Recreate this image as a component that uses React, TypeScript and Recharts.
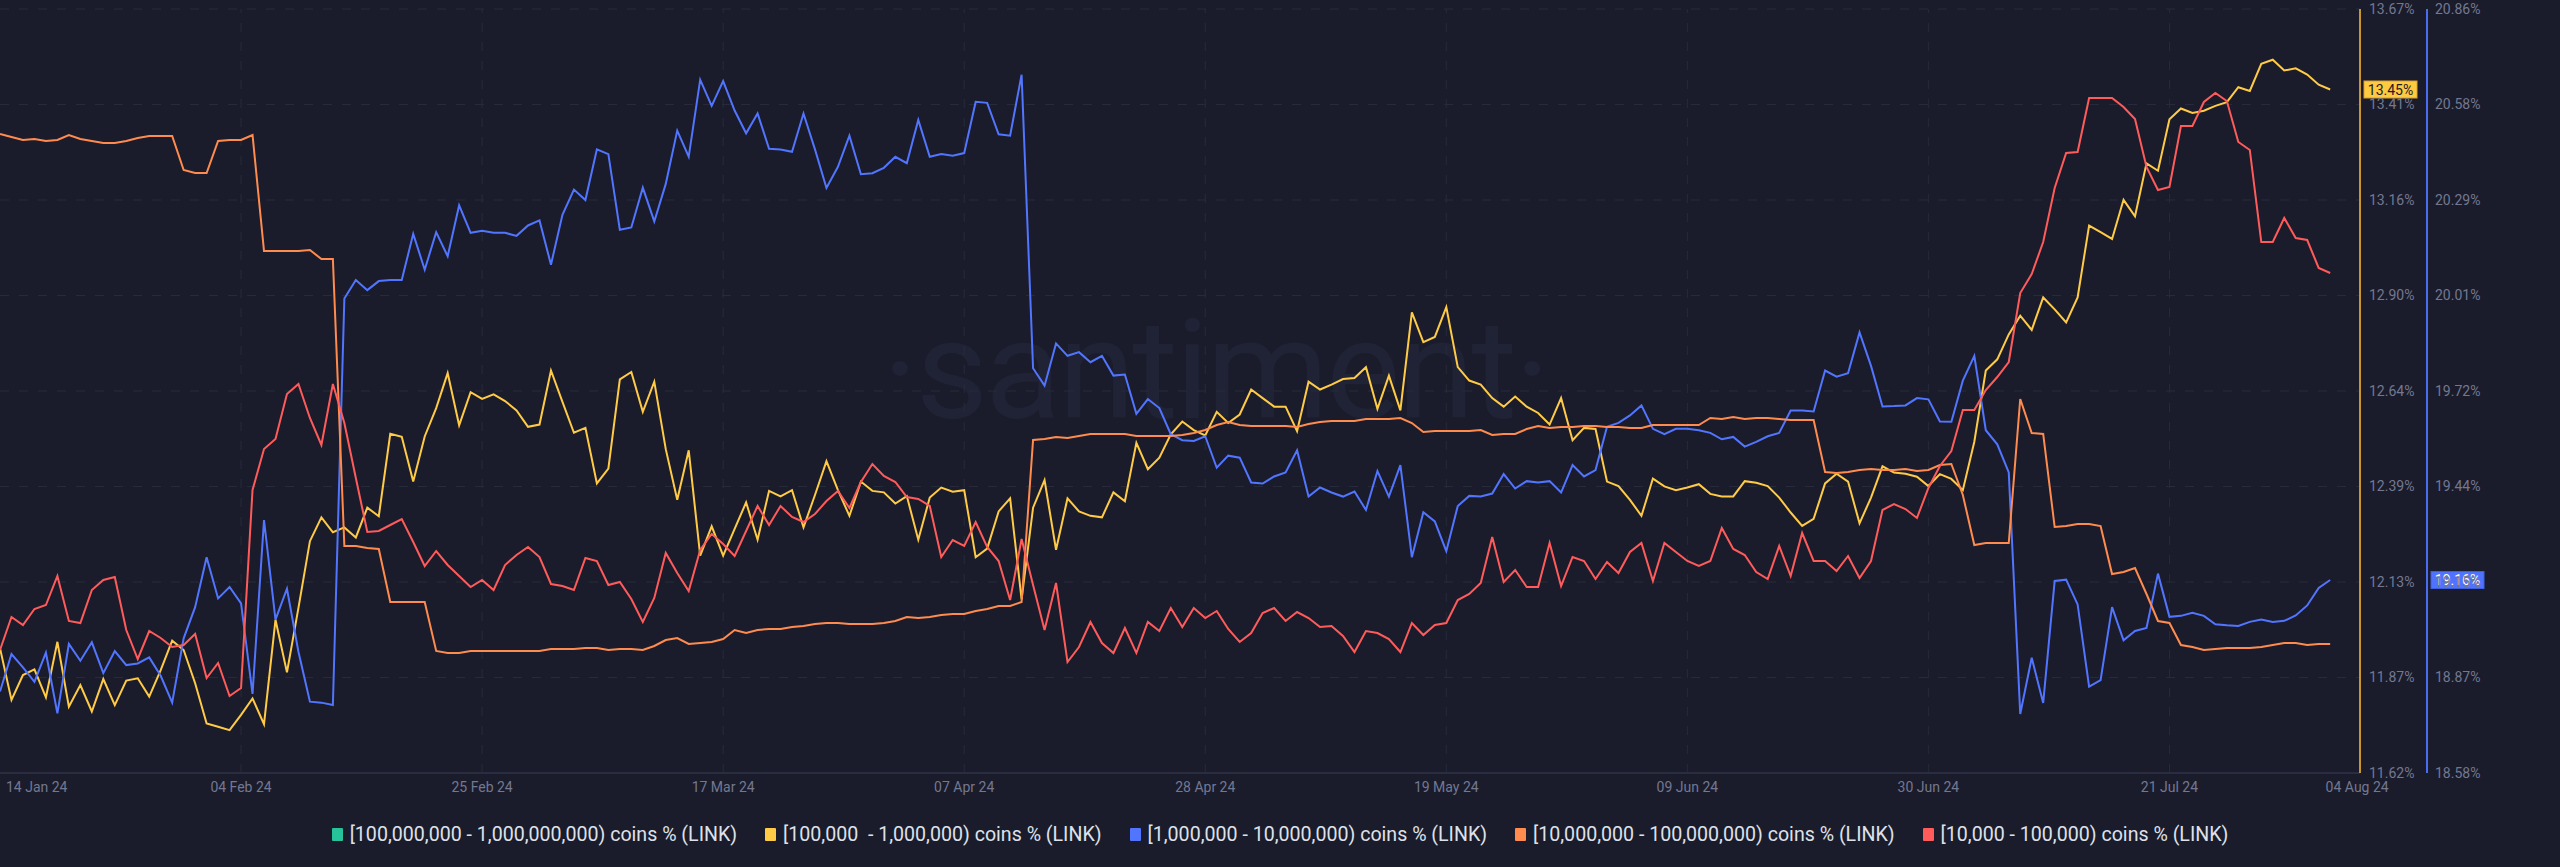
import React from 'react';
import { LineChart, Line, XAxis, YAxis, CartesianGrid, ReferenceLine, Legend } from 'recharts';

// ---- categories / ticks ----
const xTickDays = [0, 21, 42, 63, 84, 105, 126, 147, 168, 189, 203];
const xTickLabels = ['14 Jan 24', '04 Feb 24', '25 Feb 24', '17 Mar 24', '07 Apr 24', '28 Apr 24', '19 May 24', '09 Jun 24', '30 Jun 24', '21 Jul 24', '04 Aug 24'];
const gridDays = [21, 42, 63, 84, 105, 126, 147, 168, 189];

const yellowTicks = [11.62, 11.87625, 12.1325, 12.38875, 12.645, 12.90125, 13.1575, 13.41375, 13.67];
const yellowTickLabels = ['11.62%', '11.87%', '12.13%', '12.39%', '12.64%', '12.90%', '13.16%', '13.41%', '13.67%'];
const blueTicks = [18.58, 18.865, 19.15, 19.435, 19.72, 20.005, 20.29, 20.575, 20.86];
const blueTickLabels = ['18.58%', '18.87%', '19.15%', '19.44%', '19.72%', '20.01%', '20.29%', '20.58%', '20.86%'];

// ---- series (daily, 14 Jan 24 .. 04 Aug 24) ----
const yellow = [
  11.955, 11.816, 11.883, 11.898, 11.823, 11.972, 11.798, 11.856, 11.785, 11.872,
  11.802, 11.868, 11.874, 11.825, 11.896, 11.975, 11.950, 11.861, 11.753, 11.744,
  11.735, 11.776, 11.820, 11.751, 12.031, 11.890, 12.063, 12.242, 12.306, 12.266,
  12.279, 12.252, 12.332, 12.309, 12.530, 12.522, 12.402, 12.523, 12.599, 12.693,
  12.553, 12.642, 12.624, 12.636, 12.618, 12.593, 12.549, 12.555, 12.700, 12.616,
  12.533, 12.546, 12.397, 12.437, 12.676, 12.696, 12.589, 12.670, 12.489, 12.353,
  12.486, 12.203, 12.282, 12.203, 12.275, 12.346, 12.246, 12.377, 12.362, 12.379,
  12.279, 12.366, 12.457, 12.379, 12.310, 12.402, 12.377, 12.373, 12.343, 12.363,
  12.246, 12.359, 12.386, 12.375, 12.379, 12.199, 12.222, 12.322, 12.357, 12.086,
  12.332, 12.406, 12.219, 12.357, 12.322, 12.310, 12.306, 12.373, 12.349, 12.506,
  12.435, 12.466, 12.529, 12.563, 12.540, 12.526, 12.589, 12.559, 12.582, 12.649,
  12.626, 12.603, 12.603, 12.537, 12.670, 12.649, 12.662, 12.677, 12.680, 12.709,
  12.597, 12.686, 12.593, 12.856, 12.776, 12.790, 12.870, 12.709, 12.673, 12.662,
  12.626, 12.603, 12.630, 12.603, 12.586, 12.555, 12.626, 12.513, 12.546, 12.543,
  12.402, 12.390, 12.353, 12.310, 12.410, 12.389, 12.379, 12.386, 12.395, 12.369,
  12.362, 12.362, 12.403, 12.399, 12.390, 12.359, 12.319, 12.283, 12.302, 12.397,
  12.423, 12.402, 12.290, 12.359, 12.443, 12.426, 12.423, 12.415, 12.390, 12.422,
  12.409, 12.379, 12.509, 12.700, 12.730, 12.797, 12.847, 12.809, 12.896, 12.864,
  12.829, 12.896, 13.089, 13.071, 13.053, 13.158, 13.114, 13.256, 13.236, 13.374,
  13.403, 13.391, 13.397, 13.410, 13.420, 13.460, 13.450, 13.523, 13.534, 13.505,
  13.511, 13.494, 13.467, 13.454,
];

const blue = [
  18.823, 18.935, 18.895, 18.852, 18.939, 18.758, 18.965, 18.915, 18.970, 18.878,
  18.944, 18.902, 18.907, 18.925, 18.870, 18.790, 18.982, 19.075, 19.224, 19.101,
  19.135, 19.086, 18.816, 19.335, 19.038, 19.130, 18.942, 18.793, 18.790, 18.783,
  19.996, 20.051, 20.021, 20.048, 20.051, 20.051, 20.189, 20.082, 20.194, 20.122,
  20.274, 20.192, 20.198, 20.192, 20.192, 20.183, 20.214, 20.229, 20.097, 20.246,
  20.321, 20.290, 20.441, 20.427, 20.201, 20.208, 20.327, 20.226, 20.338, 20.497,
  20.419, 20.649, 20.571, 20.645, 20.557, 20.489, 20.548, 20.443, 20.441, 20.434,
  20.548, 20.441, 20.326, 20.389, 20.482, 20.367, 20.370, 20.386, 20.419, 20.400,
  20.529, 20.419, 20.427, 20.422, 20.430, 20.583, 20.580, 20.486, 20.482, 20.664,
  19.788, 19.736, 19.862, 19.825, 19.836, 19.806, 19.825, 19.766, 19.769, 19.652,
  19.696, 19.669, 19.591, 19.573, 19.571, 19.585, 19.491, 19.527, 19.521, 19.447,
  19.444, 19.465, 19.477, 19.543, 19.405, 19.432, 19.417, 19.405, 19.420, 19.365,
  19.481, 19.405, 19.499, 19.224, 19.358, 19.331, 19.242, 19.377, 19.407, 19.405,
  19.414, 19.472, 19.429, 19.451, 19.447, 19.451, 19.417, 19.499, 19.465, 19.484,
  19.613, 19.625, 19.647, 19.677, 19.607, 19.591, 19.607, 19.607, 19.603, 19.595,
  19.576, 19.583, 19.554, 19.568, 19.585, 19.595, 19.662, 19.662, 19.659, 19.781,
  19.763, 19.773, 19.895, 19.795, 19.674, 19.675, 19.677, 19.699, 19.695, 19.629,
  19.628, 19.751, 19.825, 19.603, 19.561, 19.477, 18.756, 18.924, 18.789, 19.153,
  19.157, 19.083, 18.838, 18.857, 19.075, 18.976, 19.004, 19.013, 19.175, 19.046,
  19.049, 19.058, 19.049, 19.024, 19.021, 19.019, 19.031, 19.038, 19.031, 19.034,
  19.050, 19.080, 19.132, 19.156,
];

const orange = [
  38.639, 38.636, 38.633, 38.634, 38.632, 38.633, 38.638, 38.634, 38.632, 38.630,
  38.630, 38.632, 38.635, 38.637, 38.637, 38.637, 38.603, 38.600, 38.600, 38.632,
  38.633, 38.633, 38.638, 38.522, 38.522, 38.522, 38.522, 38.523, 38.514, 38.514,
  38.227, 38.227, 38.225, 38.224, 38.171, 38.171, 38.171, 38.171, 38.122, 38.120,
  38.120, 38.122, 38.122, 38.122, 38.122, 38.122, 38.122, 38.122, 38.124, 38.124,
  38.124, 38.125, 38.125, 38.123, 38.124, 38.124, 38.123, 38.127, 38.133, 38.135,
  38.129, 38.130, 38.131, 38.134, 38.143, 38.140, 38.143, 38.144, 38.144, 38.146,
  38.147, 38.149, 38.150, 38.150, 38.149, 38.149, 38.149, 38.150, 38.152, 38.156,
  38.155, 38.156, 38.158, 38.159, 38.159, 38.162, 38.164, 38.167, 38.167, 38.171,
  38.333, 38.334, 38.336, 38.335, 38.337, 38.339, 38.339, 38.339, 38.339, 38.337,
  38.337, 38.337, 38.337, 38.338, 38.340, 38.343, 38.348, 38.351, 38.348, 38.347,
  38.347, 38.347, 38.347, 38.346, 38.349, 38.351, 38.352, 38.352, 38.352, 38.354,
  38.354, 38.354, 38.355, 38.350, 38.341, 38.342, 38.342, 38.342, 38.342, 38.343,
  38.338, 38.339, 38.339, 38.344, 38.347, 38.345, 38.346, 38.346, 38.347, 38.347,
  38.346, 38.346, 38.345, 38.345, 38.348, 38.348, 38.348, 38.348, 38.348, 38.355,
  38.354, 38.356, 38.354, 38.355, 38.355, 38.354, 38.353, 38.353, 38.353, 38.301,
  38.300, 38.301, 38.303, 38.304, 38.303, 38.303, 38.304, 38.302, 38.303, 38.308,
  38.309, 38.278, 38.228, 38.230, 38.230, 38.230, 38.374, 38.340, 38.339, 38.246,
  38.247, 38.249, 38.249, 38.247, 38.199, 38.201, 38.205, 38.179, 38.152, 38.150,
  38.128, 38.126, 38.123, 38.124, 38.125, 38.125, 38.125, 38.126, 38.128, 38.130,
  38.130, 38.128, 38.129, 38.129,
];

const red = [
  3.0123, 3.0156, 3.0148, 3.0164, 3.0168, 3.0197, 3.0152, 3.0150, 3.0183, 3.0193,
  3.0196, 3.0143, 3.0114, 3.0142, 3.0135, 3.0126, 3.0128, 3.0139, 3.0095, 3.0110,
  3.0077, 3.0085, 3.0283, 3.0324, 3.0334, 3.0379, 3.0389, 3.0355, 3.0328, 3.0389,
  3.0350, 3.0295, 3.0241, 3.0242, 3.0248, 3.0254, 3.0231, 3.0207, 3.0222, 3.0208,
  3.0197, 3.0186, 3.0193, 3.0183, 3.0208, 3.0218, 3.0226, 3.0216, 3.0189, 3.0187,
  3.0183, 3.0215, 3.0212, 3.0188, 3.0191, 3.0174, 3.0151, 3.0175, 3.0220, 3.0200,
  3.0182, 3.0223, 3.0239, 3.0229, 3.0217, 3.0242, 3.0267, 3.0248, 3.0267, 3.0256,
  3.0251, 3.0259, 3.0272, 3.0282, 3.0265, 3.0291, 3.0309, 3.0297, 3.0291, 3.0276,
  3.0274, 3.0267, 3.0216, 3.0233, 3.0227, 3.0251, 3.0226, 3.0212, 3.0173, 3.0234,
  3.0188, 3.0143, 3.0190, 3.0111, 3.0126, 3.0151, 3.0130, 3.0120, 3.0145, 3.0120,
  3.0151, 3.0142, 3.0165, 3.0146, 3.0165, 3.0155, 3.0162, 3.0144, 3.0131, 3.0140,
  3.0160, 3.0165, 3.0152, 3.0161, 3.0155, 3.0146, 3.0147, 3.0137, 3.0121, 3.0142,
  3.0140, 3.0134, 3.0121, 3.0150, 3.0138, 3.0148, 3.0150, 3.0173, 3.0179, 3.0190,
  3.0236, 3.0191, 3.0203, 3.0186, 3.0186, 3.0230, 3.0187, 3.0216, 3.0212, 3.0194,
  3.0211, 3.0200, 3.0221, 3.0230, 3.0192, 3.0230, 3.0221, 3.0212, 3.0207, 3.0212,
  3.0245, 3.0224, 3.0218, 3.0201, 3.0194, 3.0227, 3.0197, 3.0240, 3.0212, 3.0212,
  3.0202, 3.0217, 3.0195, 3.0212, 3.0263, 3.0269, 3.0264, 3.0255, 3.0285, 3.0307,
  3.0322, 3.0363, 3.0363, 3.0383, 3.0396, 3.0411, 3.0480, 3.0499, 3.0531, 3.0585,
  3.0620, 3.0621, 3.0675, 3.0675, 3.0675, 3.0666, 3.0654, 3.0606, 3.0583, 3.0586,
  3.0647, 3.0647, 3.0671, 3.0680, 3.0672, 3.0631, 3.0623, 3.0531, 3.0531, 3.0555,
  3.0535, 3.0533, 3.0505, 3.0500,
];

const legendItems = [
  { label: '[100,000,000 - 1,000,000,000) coins % (LINK)', color: '#26c29a' },
  { label: '[100,000  - 1,000,000) coins % (LINK)', color: '#ffcb47' },
  { label: '[1,000,000 - 10,000,000) coins % (LINK)', color: '#5275ff' },
  { label: '[10,000,000 - 100,000,000) coins % (LINK)', color: '#ff8b4e' },
  { label: '[10,000 - 100,000) coins % (LINK)', color: '#ff5b5b' },
];

const data = yellow.map((v, i) => ({ d: i, yellow: v, blue: blue[i], orange: orange[i], red: red[i] }));

const BG = '#1a1c2b';
const GRID = '#262a3a';
const TICK = '#737892';

const XTick = (props: any) => {
  const { x, y, payload } = props;
  const i = xTickDays.indexOf(payload.value);
  let anchor: any = 'middle';
  let dx = 0;
  if (i === 0) { anchor = 'start'; dx = 6; }
  if (i === xTickDays.length - 1) { dx = 27; }
  return (
    <text x={x + dx} y={y + 6} textAnchor={anchor} dominantBaseline="central" fill={TICK} fontSize={14}>
      {xTickLabels[i]}
    </text>
  );
};

const ValueTag = (props: any) => {
  const { viewBox, text, fill, textFill, border, dx } = props;
  if (!viewBox) return null;
  const rx = viewBox.x + viewBox.width + dx;
  const cy = viewBox.y;
  return (
    <g>
      <rect x={rx} y={cy - 8.5} width={53} height={17} fill={fill} stroke={border} strokeWidth={1} />
      <text x={rx + 26.5} y={cy + 0.5} textAnchor="middle" dominantBaseline="central" fontSize={14} fill={textFill}>
        {text}
      </text>
    </g>
  );
};

const LegendContent = () => (
  <div style={{ display: 'flex', justifyContent: 'center', alignItems: 'center', height: 24, gap: 28, color: '#dfe1ea', fontSize: 19.6, whiteSpace: 'pre' }}>
    {legendItems.map((it) => (
      <div key={it.label} style={{ display: 'flex', alignItems: 'center' }}>
        <span style={{ display: 'inline-block', width: 11, height: 13, background: it.color, marginRight: 7, borderRadius: 1 }} />
        <span>{it.label}</span>
      </div>
    ))}
  </div>
);

export default function App() {
  const lastYellow = yellow[yellow.length - 1];
  const lastBlue = blue[blue.length - 1];
  return (
    <div style={{ position: 'absolute', left: 0, top: 0, width: 2560, height: 867, background: BG, overflow: 'hidden', fontFamily: 'Roboto, sans-serif' }}>
      <div style={{ position: 'absolute', left: 0, width: 2430, top: 270, textAlign: 'center', fontSize: 140, lineHeight: '200px', color: '#202335', fontFamily: 'Roboto, sans-serif', letterSpacing: -3 }}>
        ·santiment·
      </div>
      <div style={{ position: 'absolute', left: 0, top: 0 }}>
        <LineChart width={2560} height={867} data={data} margin={{ top: 9, right: 0, bottom: 21, left: 0 }}>
          <CartesianGrid yAxisId="a-yellow" vertical={false} stroke={GRID} strokeDasharray="9 10" />
          {gridDays.map((d) => (
            <ReferenceLine key={d} x={d} yAxisId="a-yellow" stroke={GRID} strokeDasharray="9 10" />
          ))}
          <XAxis
            dataKey="d"
            type="number"
            domain={[0, 205.6]}
            ticks={xTickDays}
            interval={0}
            tick={<XTick />}
            tickLine={false}
            axisLine={{ stroke: '#2a2d40', strokeWidth: 2 }}
            height={49}
          />
          <YAxis
            yAxisId="a-yellow"
            orientation="right"
            domain={[11.62, 13.67]}
            ticks={yellowTicks}
            interval={0}
            tickFormatter={(v: number) => yellowTickLabels[yellowTicks.indexOf(v)]}
            width={67}
            axisLine={{ stroke: '#c8962d', strokeWidth: 2 }}
            tickLine={false}
            tickMargin={3}
            tick={{ fill: TICK, fontSize: 14 }}
          />
          <YAxis
            yAxisId="b-blue"
            orientation="right"
            domain={[18.58, 20.86]}
            ticks={blueTicks}
            interval={0}
            tickFormatter={(v: number) => blueTickLabels[blueTicks.indexOf(v)]}
            width={133}
            axisLine={{ stroke: '#4a6cf0', strokeWidth: 2 }}
            tickLine={false}
            tickMargin={2}
            tick={{ fill: TICK, fontSize: 14 }}
          />
          <YAxis yAxisId="c-orange" hide domain={[38.0, 38.764]} />
          <YAxis yAxisId="d-red" hide domain={[3.0, 3.0764]} />
          <Line yAxisId="a-yellow" dataKey="yellow" type="linear" stroke="#ffcb47" strokeWidth={2} dot={false} isAnimationActive={false} />
          <Line yAxisId="b-blue" dataKey="blue" type="linear" stroke="#5275ff" strokeWidth={2} dot={false} isAnimationActive={false} />
          <Line yAxisId="c-orange" dataKey="orange" type="linear" stroke="#ff8b4e" strokeWidth={2} dot={false} isAnimationActive={false} />
          <Line yAxisId="d-red" dataKey="red" type="linear" stroke="#ff5b5b" strokeWidth={2} dot={false} isAnimationActive={false} />
          <ReferenceLine
            yAxisId="a-yellow"
            y={lastYellow}
            stroke="none"
            label={<ValueTag text={`${lastYellow.toFixed(2)}%`} fill="#ffc940" border="#d9a233" textFill="#1b1d2b" dx={4} />}
          />
          <ReferenceLine
            yAxisId="b-blue"
            y={lastBlue}
            stroke="none"
            label={<ValueTag text={`${lastBlue.toFixed(2)}%`} fill="#5073ff" border="#3f5fe0" textFill="#ffffff" dx={71} />}
          />
          <Legend verticalAlign="bottom" content={<LegendContent />} wrapperStyle={{ left: 0, width: 2560, bottom: 21 }} />
        </LineChart>
      </div>
    </div>
  );
}
